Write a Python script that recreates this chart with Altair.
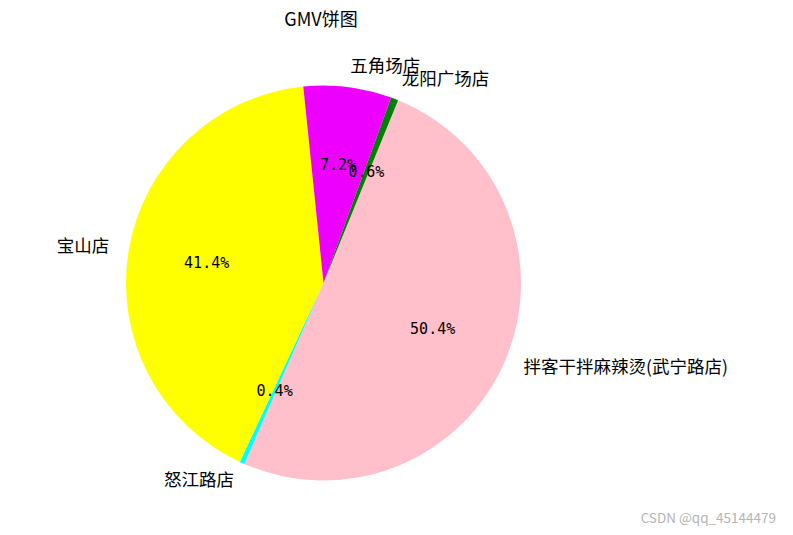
import math
import altair as alt
import pandas as pd

# data
names = ["拌客干拌麻辣烫(武宁路店)", "怒江路店", "宝山店", "五角场店", "龙阳广场店"]
shares = [50.4, 0.4, 41.4, 7.2, 0.6]
colors = ["#FFC0CB", "#00FFFF", "#FFFF00", "#EE00FF", "#008000"]
pct_labels = ["50.4%", "0.4%", "41.4%", "7.2%", "0.6%"]
title_text = "GMV饼图"
watermark = "CSDN @qq_45144479"

df = pd.DataFrame({"name": names, "value": shares, "pct": pct_labels,
                   "order": list(range(len(names)))})

START = math.radians(22.2)
R = 197.5
CX, CY = 315.5, 275
FONT = "Noto Sans CJK SC"
MONO = "DejaVu Sans Mono"

theta_scale = alt.Scale(domain=[0, 100], range=[START, START + 2 * math.pi], nice=False, zero=False)

base = alt.Chart(df).transform_window(
    cum="sum(value)", sort=[alt.SortField("order")]
).transform_calculate(
    start="datum.cum - datum.value",
    mid="datum.cum - datum.value / 2",
).transform_calculate(
    right=f"sin({START} + datum.mid / 100 * 2 * PI) >= 0"
)

arcs = base.mark_arc(radius=R).encode(
    theta=alt.Theta("start:Q", scale=theta_scale),
    theta2="cum:Q",
    color=alt.Color("name:N", scale=alt.Scale(domain=names, range=colors), legend=None),
    x=alt.value(CX), y=alt.value(CY),
)

pct = base.mark_text(font=MONO, fontSize=15, color="black", baseline="middle", align="center").encode(
    theta=alt.Theta("mid:Q", scale=theta_scale),
    radius=alt.value(R * 0.6),
    text="pct:N",
    x=alt.value(CX), y=alt.value(CY),
)

lab_r = base.transform_filter("datum.right").mark_text(
    font=FONT, fontSize=17.5, color="black", baseline="middle", align="left").encode(
    theta=alt.Theta("mid:Q", scale=theta_scale),
    radius=alt.value(R * 1.1),
    text="name:N",
    x=alt.value(CX), y=alt.value(CY),
)
lab_l = base.transform_filter("!datum.right").mark_text(
    font=FONT, fontSize=17.5, color="black", baseline="middle", align="right").encode(
    theta=alt.Theta("mid:Q", scale=theta_scale),
    radius=alt.value(R * 1.1),
    text="name:N",
    x=alt.value(CX), y=alt.value(CY),
)

title = alt.Chart(pd.DataFrame({"t": [title_text]})).mark_text(
    font=FONT, fontSize=18, color="black", baseline="middle", align="center").encode(
    text="t:N", x=alt.value(313), y=alt.value(13))

wm = alt.Chart(pd.DataFrame({"t": [watermark]})).mark_text(
    font=FONT, fontSize=13.5, color="#b4b4b4", baseline="middle", align="right").encode(
    text="t:N", x=alt.value(768), y=alt.value(511))

chart = alt.layer(arcs, pct, lab_r, lab_l, title, wm).properties(
    width=777, height=519, padding=0, autosize=alt.AutoSizeParams(type="none")
).configure_view(stroke=None)

chart.save("out.html", embed_options={"renderer": "svg", "actions": False})
